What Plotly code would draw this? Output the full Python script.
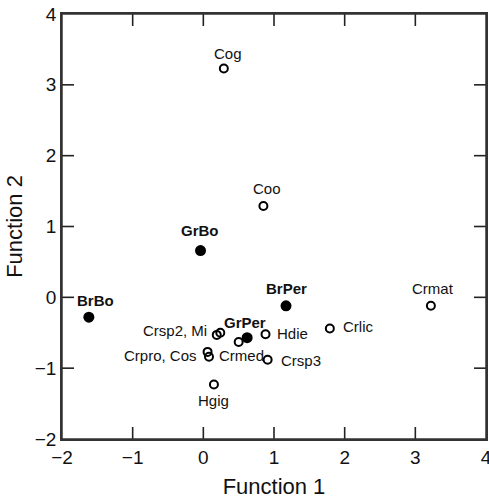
import plotly.graph_objects as go

# Group centroids (filled)
group_names = ["BrBo", "GrBo", "BrPer", "GrPer"]
group_x = [-1.62, -0.04, 1.17, 0.62]
group_y = [-0.28, 0.66, -0.12, -0.57]

# Species (open circles)
species_names = ["Cog", "Coo", "Crmat", "Crlic", "Hdie", "Crsp3", "Hgig",
                 "Crsp2", "Mi", "Crmed", "Crpro", "Cos"]
species_x = [0.29, 0.85, 3.22, 1.79, 0.88, 0.91, 0.15, 0.19, 0.24, 0.50, 0.06, 0.08]
species_y = [3.23, 1.29, -0.12, -0.44, -0.52, -0.88, -1.23, -0.53, -0.50, -0.63, -0.77, -0.84]

# Label texts attached to a point
label_points = ["Cog", "Coo", "Crmat", "Crlic", "Hdie", "Crsp3", "Hgig",
                "Crsp2", "Crmed", "Crpro"]
label_texts = ["Cog", "Coo", "Crmat", "Crlic", "Hdie", "Crsp3", "Hgig",
               "Crsp2, Mi", "Crmed", "Crpro, Cos"]

x_ticks = [-2, -1, 0, 1, 2, 3, 4]
y_ticks = [-2, -1, 0, 1, 2, 3, 4]

FONT = "Liberation Sans, Arial, Helvetica, sans-serif"
W, H = 489, 501
ML, MR, MT, MB = 62, 3, 14, 62
XR = [-2, 4]
YR = [-2, 4]
TICKLEN = 12
# tick length converted to data units
TXD = TICKLEN * (XR[1] - XR[0]) / (W - ML - MR)
TYD = TICKLEN * (YR[1] - YR[0]) / (H - MT - MB)

# label styling: (xanchor, xshift, yshift)
label_style = {
    "Cog": ("center", 4, 15),
    "Coo": ("center", 4, 17),
    "Crmat": ("center", 2, 17),
    "Crlic": ("left", 11, 2),
    "Hdie": ("left", 9, 1),
    "Crsp3": ("left", 11, -1),
    "Hgig": ("center", 0, -16),
    "Crsp2": ("right", -8, 4),
    "Crmed": ("left", -22, -14),
    "Crpro": ("right", -9, -4),
}
group_style = {
    "BrBo": ("center", 7, 17),
    "GrBo": ("center", -1, 20),
    "BrPer": ("center", 0, 17),
    "GrPer": ("center", -2, 15),
}

# inward tick marks on all four sides, built from the tick values
tx, ty = [], []
for v in x_ticks[1:-1]:
    tx += [v, v, None, v, v, None]
    ty += [YR[0], YR[0] + TYD, None, YR[1], YR[1] - TYD, None]
for v in y_ticks[1:-1]:
    tx += [XR[0], XR[0] + TXD, None, XR[1], XR[1] - TXD, None]
    ty += [v, v, None, v, v, None]

fig = go.Figure()
fig.add_trace(go.Scatter(
    x=tx, y=ty, mode="lines", line=dict(color="#222", width=1.6),
    hoverinfo="skip", showlegend=False, connectgaps=False, cliponaxis=False))
fig.add_trace(go.Scatter(
    x=species_x, y=species_y, mode="markers",
    marker=dict(symbol="circle-open", size=8, color="black",
                line=dict(width=2, color="black")),
    hoverinfo="skip", showlegend=False, cliponaxis=False))
fig.add_trace(go.Scatter(
    x=group_x, y=group_y, mode="markers",
    marker=dict(symbol="circle", size=11, color="black"),
    hoverinfo="skip", showlegend=False, cliponaxis=False))

annotations = []
for name, text in zip(label_points, label_texts):
    i = species_names.index(name)
    xa, dx, dy = label_style[name]
    annotations.append(dict(x=species_x[i], y=species_y[i], text=text,
                            showarrow=False, xanchor=xa, yanchor="middle",
                            xshift=dx, yshift=dy,
                            font=dict(family=FONT, size=15, color="#111")))
for i, name in enumerate(group_names):
    xa, dx, dy = group_style[name]
    annotations.append(dict(x=group_x[i], y=group_y[i], text="<b>%s</b>" % name,
                            showarrow=False, xanchor=xa, yanchor="middle",
                            xshift=dx, yshift=dy,
                            font=dict(family=FONT, size=15, color="#111")))

# Frame around the plotting area
shapes = [dict(type="rect", xref="paper", yref="paper", x0=0, y0=0, x1=1, y1=1,
               line=dict(color="#333", width=1.5), fillcolor="rgba(0,0,0,0)",
               layer="above")]

axis_common = dict(showgrid=False, zeroline=False, showline=True, linecolor="#333",
                   linewidth=1.5, mirror=True, ticks="", automargin=False,
                   ticklabeloverflow="allow",
                   tickfont=dict(family=FONT, size=19, color="#111"))

fig.update_layout(
    width=W, height=H,
    margin=dict(l=ML, r=MR, t=MT, b=MB),
    paper_bgcolor="white", plot_bgcolor="white",
    annotations=annotations,
    shapes=shapes,
    xaxis=dict(range=XR, tickvals=x_ticks,
               title=dict(text="Function 1", font=dict(family=FONT, size=22, color="#111"),
                          standoff=12),
               **axis_common),
    yaxis=dict(range=YR, tickvals=y_ticks,
               title=dict(text="Function 2", font=dict(family=FONT, size=22, color="#111"),
                          standoff=6),
               **axis_common),
)

fig.write_html("out.html", config={"displayModeBar": False},
               post_script="document.body.style.margin='0';document.body.style.overflow='hidden';")
